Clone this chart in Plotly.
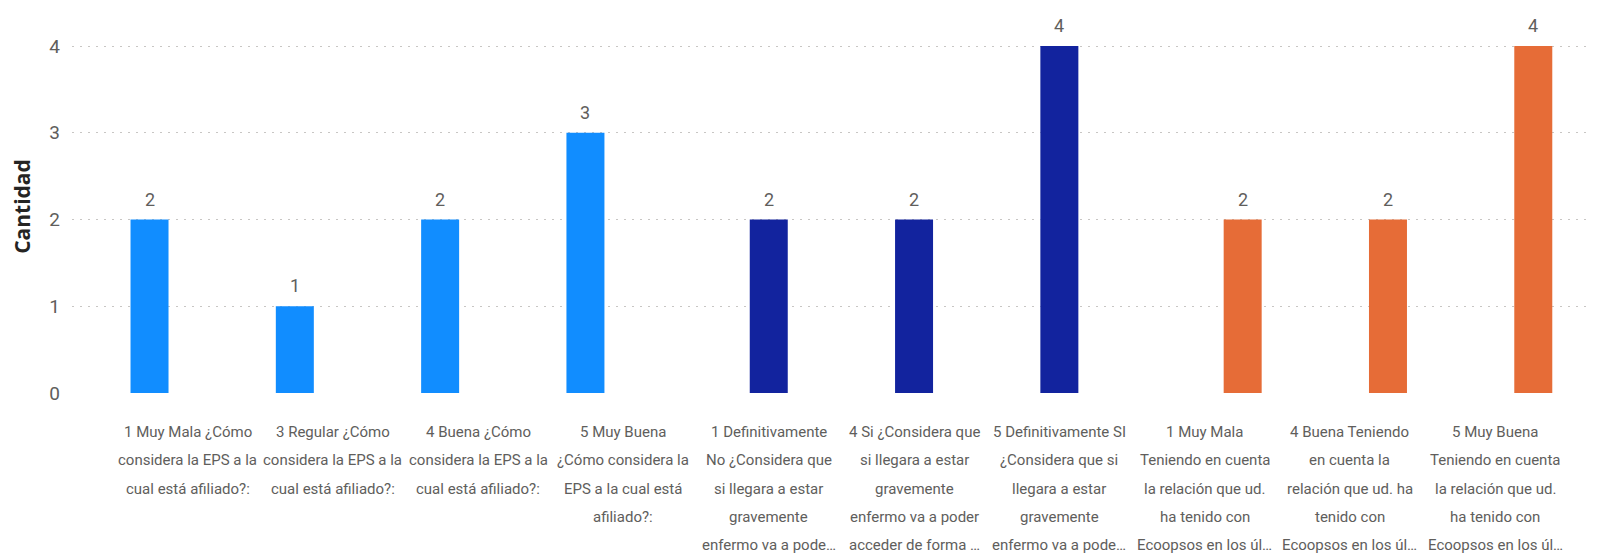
import plotly.graph_objects as go

# Category labels, wrapped and truncated as in the source report
cat_lines = [
    ["1 Muy Mala ¿Cómo", "considera la EPS a la", "cual está afiliado?:"],
    ["3 Regular ¿Cómo", "considera la EPS a la", "cual está afiliado?:"],
    ["4 Buena ¿Cómo", "considera la EPS a la", "cual está afiliado?:"],
    ["5 Muy Buena", "¿Cómo considera la", "EPS a la cual está", "afiliado?:"],
    ["1 Definitivamente", "No ¿Considera que", "si llegara a estar", "gravemente", "enfermo va a pode…"],
    ["4 Si ¿Considera que", "si llegara a estar", "gravemente", "enfermo va a poder", "acceder de forma …"],
    ["5 Definitivamente SI", "¿Considera que si", "llegara a estar", "gravemente", "enfermo va a pode…"],
    ["1 Muy Mala", "Teniendo en cuenta", "la relación que ud.", "ha tenido con", "Ecoopsos en los úl…"],
    ["4 Buena Teniendo", "en cuenta la", "relación que ud. ha", "tenido con", "Ecoopsos en los úl…"],
    ["5 Muy Buena", "Teniendo en cuenta", "la relación que ud.", "ha tenido con", "Ecoopsos en los úl…"],
]
categories = [" ".join(c) for c in cat_lines]

eps_cats = categories[0:4]
eps_vals = [2, 1, 2, 3]

acceso_cats = categories[4:7]
acceso_vals = [2, 2, 4]

ecoopsos_cats = categories[7:10]
ecoopsos_vals = [2, 2, 4]

series = [
    ("¿Cómo considera la EPS a la cual está afiliado?", eps_cats, eps_vals, "#118DFF"),
    ("¿Considera que si llegara a estar gravemente enfermo va a poder acceder?", acceso_cats, acceso_vals, "#12239E"),
    ("Teniendo en cuenta la relación con Ecoopsos", ecoopsos_cats, ecoopsos_vals, "#E66C37"),
]

FONT = "Roboto, sans-serif"
GRAY = "#605E5C"

# clustered layout: three slots per category, one per series
bar_w = 0.2615
slot_px = 38

fig = go.Figure()
for idx, (name, xs, ys, color) in enumerate(series):
    fig.add_trace(go.Bar(x=xs, y=ys, name=name, marker_color=color,
                         marker_line_width=0, width=bar_w,
                         offset=(idx - 1.5) * bar_w))

# data labels above bars
for idx, (name, xs, ys, color) in enumerate(series):
    for x, y in zip(xs, ys):
        fig.add_annotation(x=x, y=y, xref="x", yref="y", text=str(y),
                           showarrow=False, yanchor="bottom", yshift=8,
                           xshift=(idx - 1) * slot_px,
                           font=dict(family=FONT, size=18, color=GRAY))

# category labels, one annotation per line to match the line spacing
for cat, lines in zip(categories, cat_lines):
    for k, line in enumerate(lines):
        fig.add_annotation(x=cat, y=0, xref="x", yref="paper", text=line,
                           showarrow=False, yanchor="middle",
                           yshift=-(39 + 28.3 * k),
                           font=dict(family=FONT, size=15, color=GRAY))

fig.update_layout(
    width=1592, height=546,
    margin=dict(l=64, r=3, t=12, b=161),
    paper_bgcolor="white", plot_bgcolor="white",
    barmode="overlay",
    showlegend=False,
    xaxis=dict(categoryorder="array", categoryarray=categories,
               range=[-0.795, 9.70], showticklabels=False, showgrid=False,
               zeroline=False, showline=False),
    yaxis=dict(range=[0, 4.3], tickvals=[0, 1, 2, 3, 4],
               showgrid=True, gridcolor="#C8C6C4", gridwidth=1,
               griddash="2px,6px", zeroline=False, showline=False,
               ticks="", ticklabelstandoff=11,
               tickfont=dict(family=FONT, size=19, color=GRAY),
               title=dict(text="<b>Cantidad</b>", standoff=21,
                          font=dict(family="Open Sans, sans-serif", size=21,
                                    color="#252423"))),
)

fig.write_html("out.html")
